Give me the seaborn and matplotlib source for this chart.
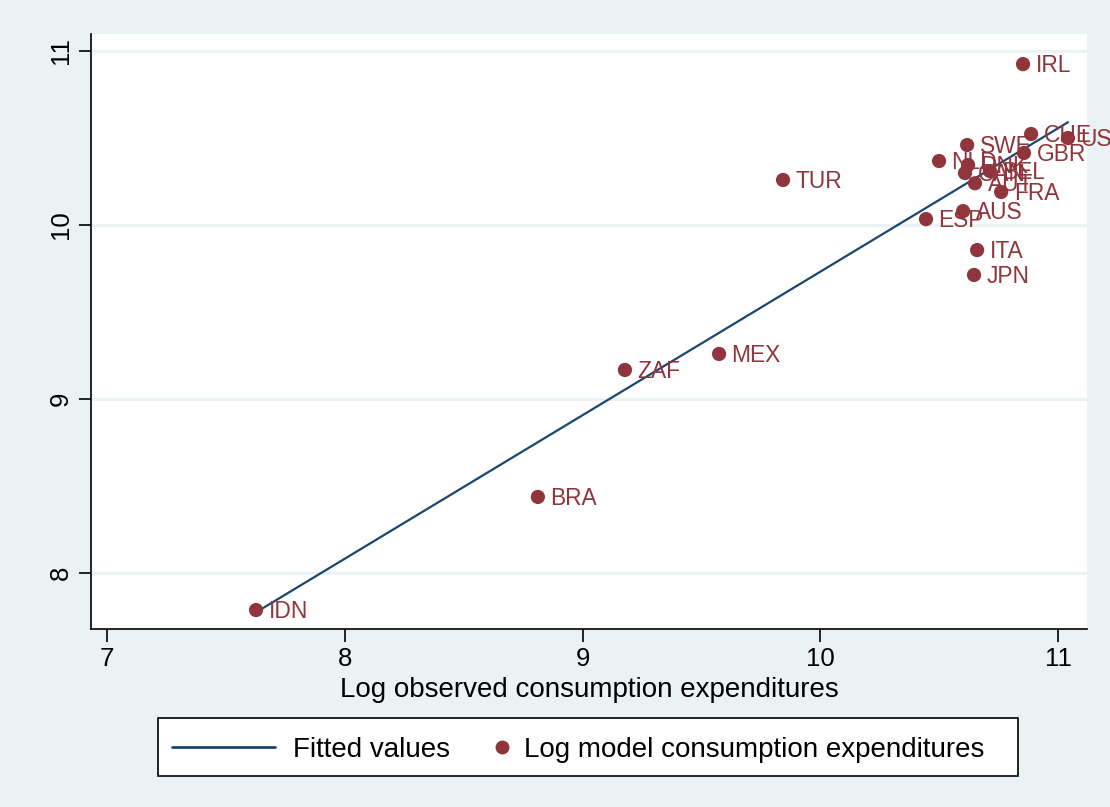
import numpy as np
import pandas as pd
import matplotlib
matplotlib.use("Agg")
import matplotlib.pyplot as plt
import seaborn as sns
from matplotlib.lines import Line2D
from matplotlib.patches import Rectangle

# Country codes and log consumption expenditures (observed vs. model)
countries = ["IRL", "CHE", "USA", "GBR", "SWE", "NLD", "DNK", "CAN", "BEL",
             "AUT", "FRA", "AUS", "ESP", "ITA", "JPN", "TUR", "MEX", "ZAF",
             "BRA", "IDN"]
log_observed = [10.852, 10.886, 11.041, 10.856, 10.617, 10.499, 10.621, 10.608,
                10.713, 10.650, 10.760, 10.600, 10.444, 10.659, 10.646, 9.843,
                9.574, 9.178, 8.812, 7.627]
log_model = [10.925, 10.523, 10.500, 10.414, 10.460, 10.368, 10.345, 10.299,
             10.310, 10.240, 10.190, 10.080, 10.034, 9.856, 9.713, 10.259,
             9.259, 9.167, 8.437, 7.787]

x_ticks = [7, 8, 9, 10, 11]
y_ticks = [8, 9, 10, 11]
legend_labels = ["Fitted values", "Log model consumption expenditures"]

df = pd.DataFrame({"country": countries, "obs": log_observed, "model": log_model})

BG = "#eaf2f3"
LINE = "#1a476f"
DOT = "#90353b"
W, H = 1110, 807

sns.set_theme(style="white")
plt.rcParams["font.family"] = ["Liberation Sans", "DejaVu Sans"]
plt.rcParams.update({"text.color": "black", "axes.labelcolor": "black",
                     "xtick.color": "black", "ytick.color": "black"})

fig = plt.figure(figsize=(W / 100, H / 100), dpi=100, facecolor=BG)
ax = fig.add_axes([91 / W, 1 - 629 / H, (1087 - 91) / W, (629 - 34) / H])
ax.set_facecolor("white")

for yv in y_ticks:
    ax.axhline(yv, color=BG, lw=2.2, zorder=0)

# Linear fit over the observed range
sns.regplot(data=df, x="obs", y="model", ax=ax, scatter=False, ci=None,
            truncate=True, line_kws=dict(color=LINE, lw=1.6, zorder=2))
sns.scatterplot(data=df, x="obs", y="model", ax=ax, color=DOT, s=105,
                edgecolor="none", zorder=3)

for c, xv, yv in zip(countries, log_observed, log_model):
    ax.annotate(c, (xv, yv), xytext=(9, -5.9), textcoords="offset points",
                va="baseline", ha="left", color=DOT, fontsize=16.4, zorder=4,
                annotation_clip=False)

ax.set_xlim(6.933, 11.121)
ax.set_ylim(7.678, 11.098)
ax.set_xticks(x_ticks)
ax.set_yticks(y_ticks)
ax.set_xticklabels([str(v) for v in x_ticks], fontsize=18.5, color="black")
ax.set_yticklabels([str(v) for v in y_ticks], fontsize=18.5, rotation=90,
                   va="center", color="black")
ax.tick_params(axis="both", direction="out", length=9, width=1.2, color="black",
               labelcolor="black", bottom=True, left=True, pad=4)

for side in ["top", "right"]:
    ax.spines[side].set_visible(False)
for side in ["left", "bottom"]:
    ax.spines[side].set_color("black")
    ax.spines[side].set_linewidth(1.2)

ax.set_xlabel("Log observed consumption expenditures", fontsize=20, labelpad=4,
              color="black")
ax.set_ylabel("")

# Legend box below the plot region (figure pixel coordinates)
def fx(px):
    return px / W

def fy(py):
    return 1 - py / H

fig.patches.append(Rectangle((fx(158), fy(776)), fx(1018) - fx(158), fy(718) - fy(776),
                             transform=fig.transFigure, facecolor="white",
                             edgecolor="black", lw=1.2, zorder=1))
ly = fy(747)
fig.add_artist(Line2D([fx(172), fx(275)], [ly, ly], color=LINE, lw=2,
                      transform=fig.transFigure, zorder=2))
fig.text(fx(293), ly, legend_labels[0], fontsize=20, va="center_baseline",
         ha="left", color="black")
fig.add_artist(Line2D([fx(502)], [ly], marker="o", markersize=10,
                      markerfacecolor=DOT, markeredgecolor="none", linestyle="none",
                      transform=fig.transFigure, zorder=2))
fig.text(fx(524), ly, legend_labels[1], fontsize=20, va="center_baseline",
         ha="left", color="black")

fig.savefig("out.png", dpi=100, facecolor=BG)
